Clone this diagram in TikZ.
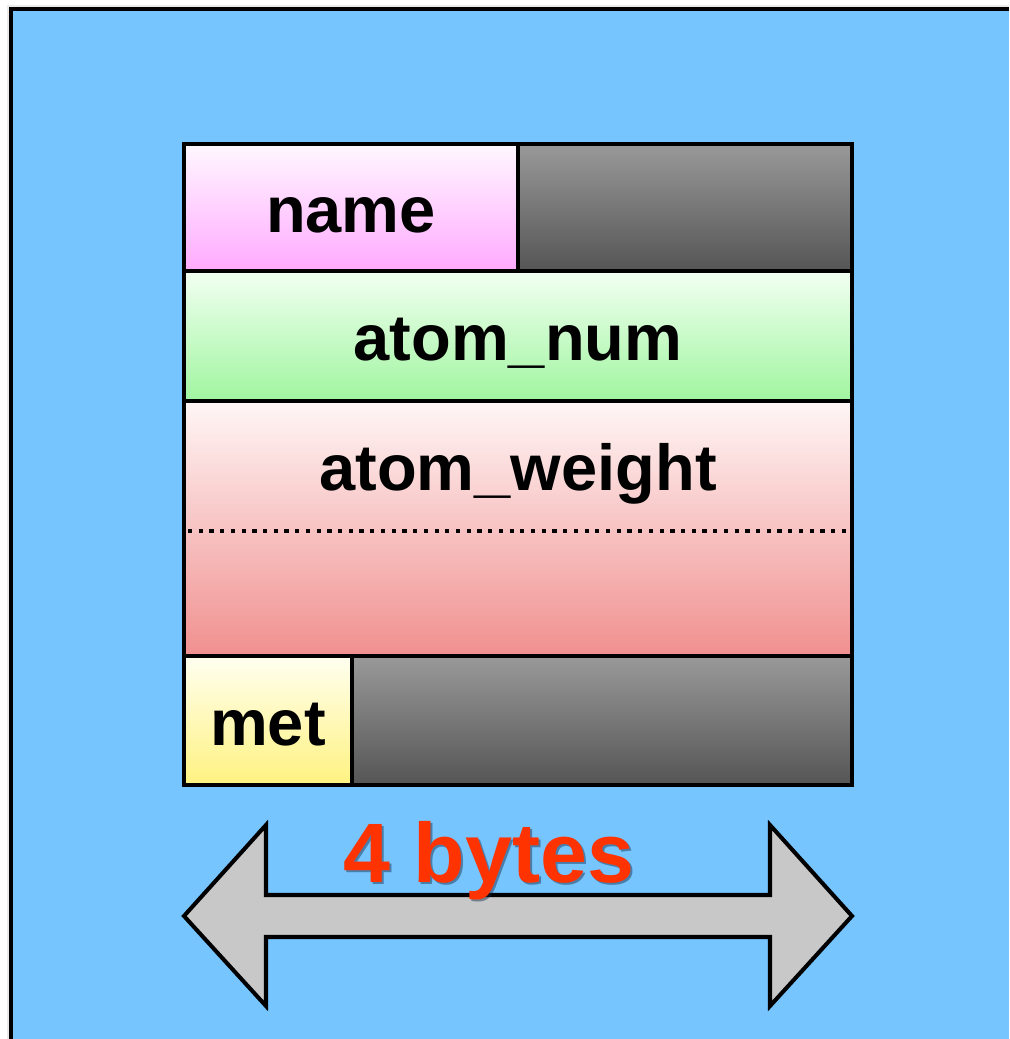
\documentclass[tikz,border=0pt]{standalone}
\usepackage{fontspec}
\setmainfont{Liberation Sans}
\definecolor{haikei}{RGB}{118,197,254}
\definecolor{namaeue}{RGB}{255,248,255}
\definecolor{namaeshita}{RGB}{255,170,255}
\definecolor{midoriue}{RGB}{242,255,242}
\definecolor{midorishita}{RGB}{160,245,160}
\definecolor{akaue}{RGB}{255,246,246}
\definecolor{akashita}{RGB}{240,144,143}
\definecolor{kiiroue}{RGB}{255,255,240}
\definecolor{kiiroshita}{RGB}{255,242,128}
\definecolor{haiue}{RGB}{153,153,153}
\definecolor{haishita}{RGB}{85,85,85}
\definecolor{yajirushiiro}{RGB}{200,200,200}
\definecolor{aka}{RGB}{255,51,0}
\definecolor{kage}{RGB}{20,40,70}
\tikzset{
  waku/.style={line width=2.8pt},
  moji/.style={font=\bfseries\fontsize{37}{40}\selectfont, anchor=base, inner sep=0pt},
  ookii/.style={font=\bfseries\fontsize{48}{52}\selectfont, anchor=base, inner sep=0pt},
}
\begin{document}
\begin{tikzpicture}[x=0.02cm,y=-0.02cm]
			\useasboundingbox (0,0) rectangle (1009,1039);
			\fill[white] (0,0) rectangle (1009,1039);
			\fill[black!8] (7,5) rectangle (1009,1039);%影
			\fill[haikei] (11,9) rectangle (1009,1039);%背景
			\draw[line width=1.8pt] (11,1039)--(11,9)--(1009,9);
			% 各欄
			\shade[top color=namaeue, bottom color=namaeshita] (184,144) rectangle (518,271);
			\shade[top color=haiue, bottom color=haishita] (518,144) rectangle (852,271);
			\shade[top color=midoriue, bottom color=midorishita] (184,271) rectangle (852,401);
			\shade[top color=akaue, bottom color=akashita] (184,401) rectangle (852,656);
			\shade[top color=kiiroue, bottom color=kiiroshita] (184,656) rectangle (352,785);
			\shade[top color=haiue, bottom color=haishita] (352,656) rectangle (852,785);
			% 枠線
			\draw[waku] (184,144) rectangle (852,785);
			\draw[waku] (184,271)--(852,271);
			\draw[waku] (184,401)--(852,401);
			\draw[waku] (184,656)--(852,656);
			\draw[waku] (518,144)--(518,271);
			\draw[waku] (352,656)--(352,785);
			\draw[line width=2.4pt, dash pattern=on 2.4pt off 3.7pt] (188,531)--(850,531);
			\node[moji] (name) at (351,232) {name};
			\node[moji] (num) at (518,360) {atom\_num};
			\node[moji] (weight) at (518,490) {atom\_weight};
			\node[moji] (met) at (268,745) {met};
			% 矢印
			\draw[line width=2.3pt, fill=yajirushiiro, miter limit=10] (184,916)--(266,825)--(266,895)--(770,895)--(770,825)--(852,916)--(770,1006)--(770,937)--(266,937)--(266,1006)--cycle;
			\node[ookii, text=kage, opacity=0.45] (bytesshadow) at (491,884) {4 bytes};
			\node[ookii, text=aka] (bytes) at (489,882) {4 bytes};
		\end{tikzpicture}
\end{document}
